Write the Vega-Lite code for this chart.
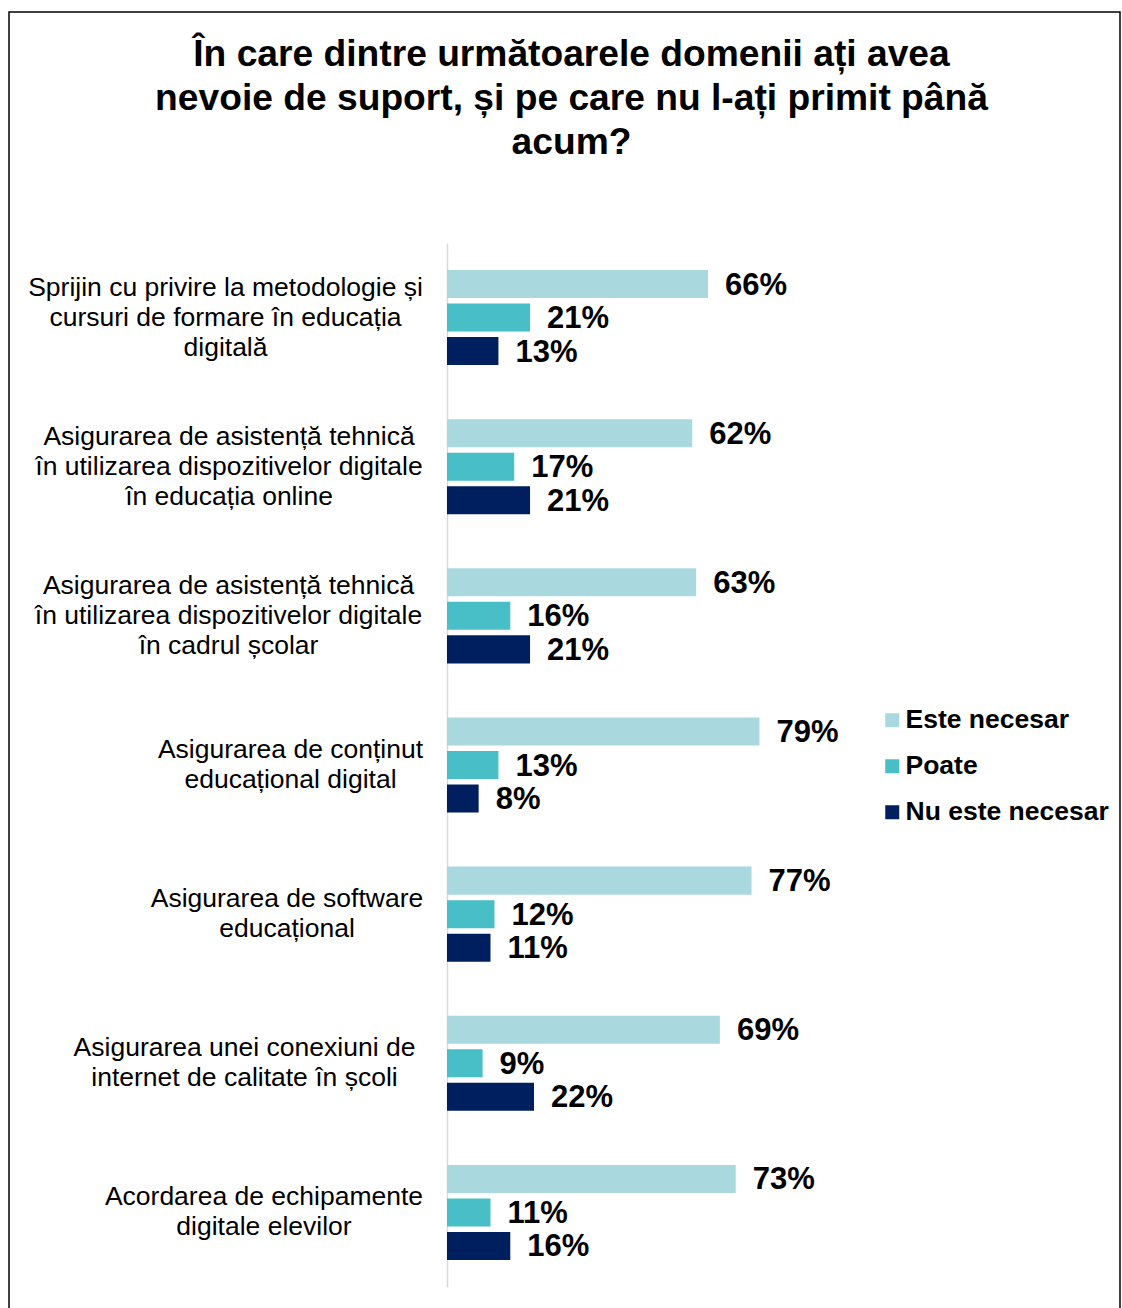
{
  "$schema": "https://vega.github.io/schema/vega-lite/v6.json",
  "autosize": "none",
  "padding": {"left": 9, "top": 12, "right": 2, "bottom": 0},
  "width": 1111,
  "height": 1300,
  "background": "white",
  "config": {
    "view": {"stroke": "black", "strokeWidth": 1.5},
    "font": "Liberation Sans"
  },
  "title": {
    "text": ["În care dintre următoarele domenii ați avea", "nevoie de suport, și pe care nu l-ați primit până", "acum?"],
    "font": "Liberation Sans",
    "fontSize": 37.2,
    "fontWeight": "bold",
    "lineHeight": 44,
    "color": "black",
    "anchor": "middle",
    "frame": "group",
    "baseline": "top",
    "offset": -150,
    "dx": 7
  },
  "data": {
    "values": [
      {"cat": "Sprijin cu privire la metodologie și|cursuri de formare în educația|digitală", "series": "Este necesar", "value": 0.66},
      {"cat": "Sprijin cu privire la metodologie și|cursuri de formare în educația|digitală", "series": "Poate", "value": 0.21},
      {"cat": "Sprijin cu privire la metodologie și|cursuri de formare în educația|digitală", "series": "Nu este necesar", "value": 0.13},
      {"cat": "Asigurarea de asistență tehnică|în utilizarea dispozitivelor digitale|în educația online", "series": "Este necesar", "value": 0.62},
      {"cat": "Asigurarea de asistență tehnică|în utilizarea dispozitivelor digitale|în educația online", "series": "Poate", "value": 0.17},
      {"cat": "Asigurarea de asistență tehnică|în utilizarea dispozitivelor digitale|în educația online", "series": "Nu este necesar", "value": 0.21},
      {"cat": "Asigurarea de asistență tehnică|în utilizarea dispozitivelor digitale|în cadrul școlar", "series": "Este necesar", "value": 0.63},
      {"cat": "Asigurarea de asistență tehnică|în utilizarea dispozitivelor digitale|în cadrul școlar", "series": "Poate", "value": 0.16},
      {"cat": "Asigurarea de asistență tehnică|în utilizarea dispozitivelor digitale|în cadrul școlar", "series": "Nu este necesar", "value": 0.21},
      {"cat": "Asigurarea de conținut|educațional digital", "series": "Este necesar", "value": 0.79},
      {"cat": "Asigurarea de conținut|educațional digital", "series": "Poate", "value": 0.13},
      {"cat": "Asigurarea de conținut|educațional digital", "series": "Nu este necesar", "value": 0.08},
      {"cat": "Asigurarea de software|educațional", "series": "Este necesar", "value": 0.77},
      {"cat": "Asigurarea de software|educațional", "series": "Poate", "value": 0.12},
      {"cat": "Asigurarea de software|educațional", "series": "Nu este necesar", "value": 0.11},
      {"cat": "Asigurarea unei conexiuni de|internet de calitate în școli", "series": "Este necesar", "value": 0.69},
      {"cat": "Asigurarea unei conexiuni de|internet de calitate în școli", "series": "Poate", "value": 0.09},
      {"cat": "Asigurarea unei conexiuni de|internet de calitate în școli", "series": "Nu este necesar", "value": 0.22},
      {"cat": "Acordarea de echipamente|digitale elevilor", "series": "Este necesar", "value": 0.73},
      {"cat": "Acordarea de echipamente|digitale elevilor", "series": "Poate", "value": 0.11},
      {"cat": "Acordarea de echipamente|digitale elevilor", "series": "Nu este necesar", "value": 0.16}
    ]
  },
  "encoding": {
    "y": {
      "field": "cat",
      "type": "nominal",
      "sort": null,
      "scale": {"range": [231, 1275], "paddingInner": 0, "paddingOuter": 0},
      "axis": {
        "title": null,
        "offset": -438,
        "domainColor": "#D9D9D9",
        "domainWidth": 1.5,
        "ticks": false,
        "tickSize": 0,
        "labelFont": "Liberation Sans",
        "labelFontSize": 26.5,
        "labelColor": "black",
        "labelLimit": 0,
        "labelAlign": "center",
        "labelBaseline": "middle",
        "labelLineHeight": 30,
        "labelExpr": "split(datum.label, '|')",
        "labelOffset": {
          "condition": {"test": "length(split(datum.value, '|')) == 3", "value": -30},
          "value": -15
        },
        "labelPadding": {
          "condition": [
            {"test": "indexof(datum.value, 'Sprijin') == 0", "value": 222},
            {"test": "indexof(datum.value, 'online') >= 0", "value": 218.5},
            {"test": "indexof(datum.value, 'cadrul') >= 0", "value": 219},
            {"test": "indexof(datum.value, 'conținut') >= 0", "value": 157},
            {"test": "indexof(datum.value, 'software') >= 0", "value": 160.5},
            {"test": "indexof(datum.value, 'conexiuni') >= 0", "value": 203}
          ],
          "value": 183.5
        }
      }
    },
    "yOffset": {
      "field": "series",
      "type": "nominal",
      "scale": {"domain": ["Este necesar", "Poate", "Nu este necesar"], "paddingInner": 0.164, "paddingOuter": 0.807}
    },
    "x": {
      "field": "value",
      "type": "quantitative",
      "scale": {"domain": [0, 1], "range": [438, 833.5], "nice": false, "zero": true},
      "axis": null
    }
  },
  "layer": [
    {
      "mark": {"type": "bar"},
      "encoding": {
        "color": {
          "field": "series",
          "type": "nominal",
          "scale": {"domain": ["Este necesar", "Poate", "Nu este necesar"], "range": ["#A9D9DE", "#48BEC7", "#001F5F"]},
          "legend": {
            "title": null,
            "orient": "none",
            "legendX": 870,
            "legendY": 695,
            "symbolType": "square",
            "symbolSize": 196,
            "symbolStrokeWidth": 0,
            "labelFont": "Liberation Sans",
            "labelFontSize": 26.5,
            "labelFontWeight": "bold",
            "labelColor": "black",
            "labelOffset": 0,
            "rowPadding": 19,
            "labelLimit": 0
          }
        }
      }
    },
    {
      "mark": {"type": "text", "align": "left", "baseline": "middle", "dx": 17, "dy": 1.5, "font": "Liberation Sans", "fontSize": 31, "fontWeight": "bold", "color": "black"},
      "encoding": {
        "text": {"field": "value", "type": "quantitative", "format": ".0%"}
      }
    }
  ]
}
